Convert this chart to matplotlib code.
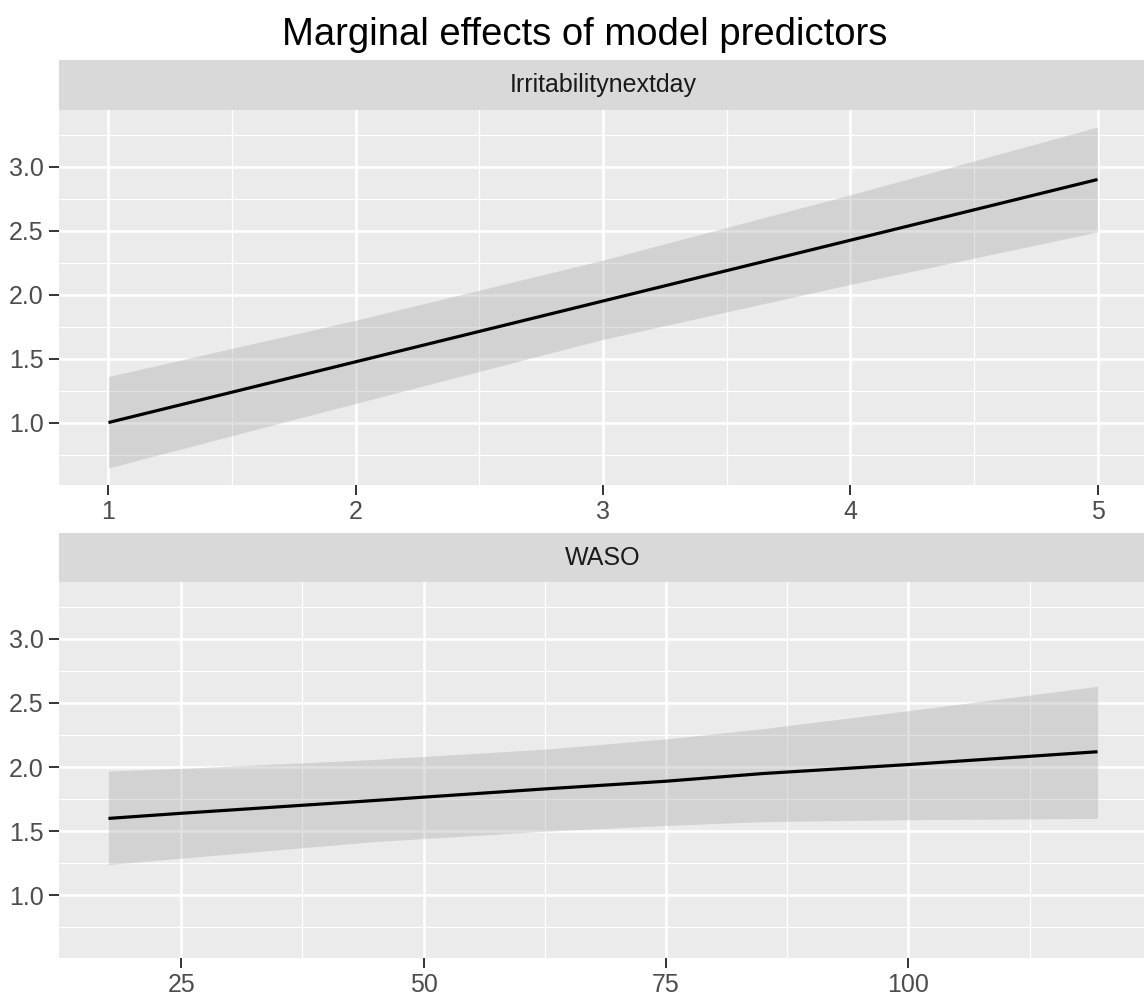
import matplotlib
matplotlib.use('Agg')
import matplotlib.pyplot as plt
from matplotlib.ticker import FixedLocator

plt.rcParams['font.family'] = ['Liberation Sans', 'DejaVu Sans']

title = "Marginal effects of model predictors"
facet_labels = ["Irritabilitynextday", "WASO"]

irr_x = [1, 2, 3, 4, 5]
irr_fit = [1.00, 1.475, 1.95, 2.425, 2.90]
irr_upper = [1.36, 1.80, 2.27, 2.78, 3.31]
irr_lower = [0.645, 1.15, 1.65, 2.08, 2.49]

waso_x = [17.5, 25, 45, 62.5, 75, 85, 100, 119.5]
waso_fit = [1.60, 1.64, 1.74, 1.83, 1.89, 1.95, 2.02, 2.12]
waso_upper = [1.97, 1.99, 2.06, 2.14, 2.22, 2.30, 2.44, 2.63]
waso_lower = [1.24, 1.29, 1.42, 1.50, 1.545, 1.575, 1.59, 1.60]

y_ticks = [1.0, 1.5, 2.0, 2.5, 3.0]
y_minor = [0.75, 1.25, 1.75, 2.25, 2.75, 3.25]
irr_ticks = [1, 2, 3, 4, 5]
irr_minor = [1.5, 2.5, 3.5, 4.5]
waso_ticks = [25, 50, 75, 100]
waso_minor = [37.5, 62.5, 87.5, 112.5]

W, H = 1144, 997
fig = plt.figure(figsize=(W / 100, H / 100), dpi=100)

all_y = irr_upper + irr_lower + waso_upper + waso_lower
ymin, ymax = min(all_y), max(all_y)
yr = ymax - ymin
ylim = (ymin - 0.05 * yr, ymax + 0.05 * yr)

left = 59 / W
right = 1147 / W
panels = [
    # (strip_top_px, panel_top_px, panel_bottom_px)
    (60, 110, 485),
    (533, 582, 958),
]
datasets = [
    (irr_x, irr_fit, irr_upper, irr_lower, irr_ticks, irr_minor, [str(t) for t in irr_ticks]),
    (waso_x, waso_fit, waso_upper, waso_lower, waso_ticks, waso_minor, [str(t) for t in waso_ticks]),
]

for (st, pt, pb), (x, fit, up, lo, xt, xm, xl), lab in zip(panels, datasets, facet_labels):
    ax = fig.add_axes([left, 1 - pb / H, right - left, (pb - pt) / H])
    ax.set_facecolor('#EBEBEB')
    for s in ax.spines.values():
        s.set_visible(False)
    xr = max(x) - min(x)
    ax.set_xlim(min(x) - 0.05 * xr, max(x) + 0.05 * xr)
    ax.set_ylim(*ylim)
    ax.xaxis.set_major_locator(FixedLocator(xt))
    ax.xaxis.set_minor_locator(FixedLocator(xm))
    ax.yaxis.set_major_locator(FixedLocator(y_ticks))
    ax.yaxis.set_minor_locator(FixedLocator(y_minor))
    ax.set_xticklabels(xl)
    ax.set_yticklabels([f"{v:.1f}" for v in y_ticks])
    ax.grid(which='major', color='white', linewidth=1.8)
    ax.grid(which='minor', color='white', linewidth=0.9)
    ax.set_axisbelow(True)
    ax.tick_params(which='major', length=7, width=1.4, color='#333333',
                   labelcolor='#4D4D4D', labelsize=18, pad=4)
    ax.tick_params(which='minor', length=0)
    ax.fill_between(x, lo, up, color='#999999', alpha=0.3, linewidth=0, zorder=2)
    ax.plot(x, fit, color='black', linewidth=2.3, zorder=3, solid_capstyle='butt')

    sax = fig.add_axes([left, 1 - pt / H, right - left, (pt - st) / H])
    sax.set_facecolor('#D9D9D9')
    sax.set_xticks([])
    sax.set_yticks([])
    for s in sax.spines.values():
        s.set_visible(False)
    sax.text(0.5, 0.5, lab, transform=sax.transAxes, ha='center', va='center',
             fontsize=18, color='#1A1A1A')

fig.text(585 / W, 1 - 45 / H, title, ha='center', va='baseline', fontsize=27.5, color='black')

fig.savefig('out.png', dpi=100)
